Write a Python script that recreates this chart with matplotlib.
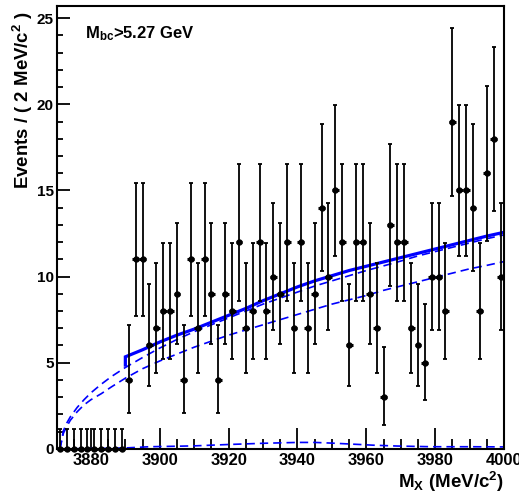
import math
import numpy as np
import matplotlib
matplotlib.use("Agg")
import matplotlib.pyplot as plt

plt.rcParams['font.family'] = ['Liberation Sans', 'DejaVu Sans']
plt.rcParams['font.weight'] = 'bold'
plt.rcParams['mathtext.fontset'] = 'custom'
plt.rcParams['mathtext.rm'] = 'Liberation Sans:bold'
plt.rcParams['mathtext.bf'] = 'Liberation Sans:bold'
plt.rcParams['mathtext.it'] = 'Liberation Sans:bold'
plt.rcParams['mathtext.default'] = 'bf'

# ---- data ----
bin_low = 3870
bin_width = 2
counts = [0, 0, 0, 0, 0, 0, 0, 0, 0, 0,
          4, 11, 11, 6, 7, 8, 8, 9, 4, 11,
          7, 11, 9, 4, 9, 8, 12, 7, 8, 12,
          8, 10, 9, 12, 7, 12, 7, 9, 14, 10,
          15, 12, 6, 12, 12, 9, 7, 3, 13, 12,
          12, 7, 6, 5, 10, 10, 8, 19, 15, 15,
          14, 8, 16, 18, 10]

# fitted curves
total_x = [3890, 3890, 3895, 3900, 3905, 3910, 3915, 3920, 3925, 3930, 3935, 3940,
           3945, 3950, 3955, 3960, 3965, 3970, 3975, 3980, 3985, 3990, 3995, 4000]
total_y = [4.86, 5.34, 5.75, 6.2, 6.6, 6.95, 7.35, 7.75, 8.15, 8.6, 9.0, 9.4,
           9.75, 10.05, 10.35, 10.6, 10.85, 11.1, 11.35, 11.6, 11.85, 12.1, 12.35, 12.57]

bkg1_x = [3871, 3872, 3873, 3874, 3876, 3878, 3880, 3883, 3886, 3890, 3895, 3900,
          3905, 3910, 3915, 3920, 3925, 3930, 3935, 3940, 3945, 3950, 3955, 3960,
          3965, 3970, 3975, 3980, 3985, 3990, 3995, 4000]
bkg1_y = [0.0, 1.05, 1.5, 1.85, 2.4, 2.85, 3.25, 3.75, 4.2, 4.72, 5.3, 5.85,
          6.35, 6.8, 7.2, 7.6, 8.0, 8.4, 8.75, 9.1, 9.45, 9.75, 10.05, 10.35,
          10.62, 10.9, 11.2, 11.45, 11.7, 11.95, 12.2, 12.42]

bkg2_x = bkg1_x
bkg2_y = [0.0, 0.9, 1.3, 1.65, 2.15, 2.55, 2.85, 3.2, 3.6, 4.1, 4.65, 5.1,
          5.5, 5.9, 6.25, 6.6, 6.9, 7.2, 7.5, 7.8, 8.1, 8.4, 8.65, 8.9,
          9.2, 9.45, 9.7, 9.95, 10.2, 10.45, 10.65, 10.87]

sig_x = [3871, 3880, 3890, 3897, 3905, 3910, 3920, 3930, 3940, 3945, 3950, 3956,
         3962, 3969, 3979, 3990, 4000]
sig_y = [0.0, 0.01, 0.05, 0.12, 0.15, 0.17, 0.25, 0.32, 0.37, 0.37, 0.33, 0.27,
         0.21, 0.16, 0.12, 0.12, 0.11]

xticks_major = [3880, 3900, 3920, 3940, 3960, 3980, 4000]
yticks_major = [0, 5, 10, 15, 20, 25]


def pois_cdf(k, mu):
    s = 0.0
    term = math.exp(-mu)
    for i in range(k + 1):
        if i > 0:
            term *= mu / i
        s += term
    return s


def bisect(f, a, b):
    for _ in range(80):
        m = 0.5 * (a + b)
        if f(a) * f(m) <= 0:
            b = m
        else:
            a = m
    return 0.5 * (a + b)


alpha = 0.158655
lo_err, hi_err = [], []
for n in counts:
    if n == 0:
        lo_err.append(0.0)
        hi_err.append(1.148)
        continue
    lo = bisect(lambda mu: (1 - pois_cdf(n - 1, mu)) - alpha, 1e-6, n + 50)
    hi = bisect(lambda mu: pois_cdf(n, mu) - alpha, 1e-6, n + 60)
    lo_err.append(n - lo)
    hi_err.append(hi - n)

centers = [bin_low + bin_width * (i + 0.5) for i in range(len(counts))]

# ---- figure ----
W, H = 519, 495
fig = plt.figure(figsize=(W / 100, H / 100), dpi=100)
ax = fig.add_axes([56.5 / W, 1 - 448.8 / H, (504 - 56.5) / W, (448.8 - 6) / H])
ax.set_xlim(3870, 4000)
ax.set_ylim(0, 25.71)

blue = '#0000ff'
ax.plot(sig_x, sig_y, color=blue, lw=1.2, ls=(0, (5, 3)), zorder=2)
ax.plot(bkg2_x, bkg2_y, color=blue, lw=1.2, ls=(0, (5, 3)), zorder=2)
ax.plot(bkg1_x, bkg1_y, color=blue, lw=1.2, ls=(0, (5, 3)), zorder=2)
ax.plot(total_x, total_y, color=blue, lw=2.3, zorder=3, solid_joinstyle='miter')

ax.errorbar(centers, counts, yerr=[lo_err, hi_err], fmt='none', ecolor='black',
            elinewidth=1.3, capsize=1.6, capthick=1.3, zorder=4, clip_on=False)
ax.errorbar(centers, counts, xerr=1.0, fmt='o', color='black', ms=3.6,
            elinewidth=2.2, capsize=0, zorder=5, clip_on=False)

for s in ax.spines.values():
    s.set_linewidth(1.5)
    s.set_color('black')
    s.set_zorder(6)

ax.set_xticks(xticks_major)
ax.set_xticks(np.arange(3870, 4001, 5), minor=True)
ax.set_yticks(yticks_major)
ax.set_yticks(np.arange(0, 26, 1), minor=True)
ax.tick_params(axis='x', which='major', direction='in', length=15, width=1.3,
               labelsize=12, pad=3)
ax.tick_params(axis='x', which='minor', direction='in', length=7.3, width=1.3)
ax.tick_params(axis='y', which='major', direction='in', length=9.4, width=1.3,
               labelsize=11, pad=2)
ax.tick_params(axis='y', which='minor', direction='in', length=4.5, width=1.3)
for lab in ax.get_xticklabels() + ax.get_yticklabels():
    lab.set_fontweight('bold')

fig.text(23 / W, 1 - 11.5 / H, r'Events / ( 2 MeV/c$^{2}$ )', rotation=90,
         ha='center', va='top', fontsize=13.4, fontweight='bold')
fig.text(503.5 / W, 1 - 488.5 / H, r'M$_{X}$ (MeV/c$^{2}$)', ha='right',
         va='baseline', fontsize=13.5, fontweight='bold')
fig.text(85 / W, 1 - 38.3 / H, r'M$_{bc}$>5.27 GeV', ha='left',
         va='baseline', fontsize=12, fontweight='bold')

fig.savefig('out.png', dpi=100)
